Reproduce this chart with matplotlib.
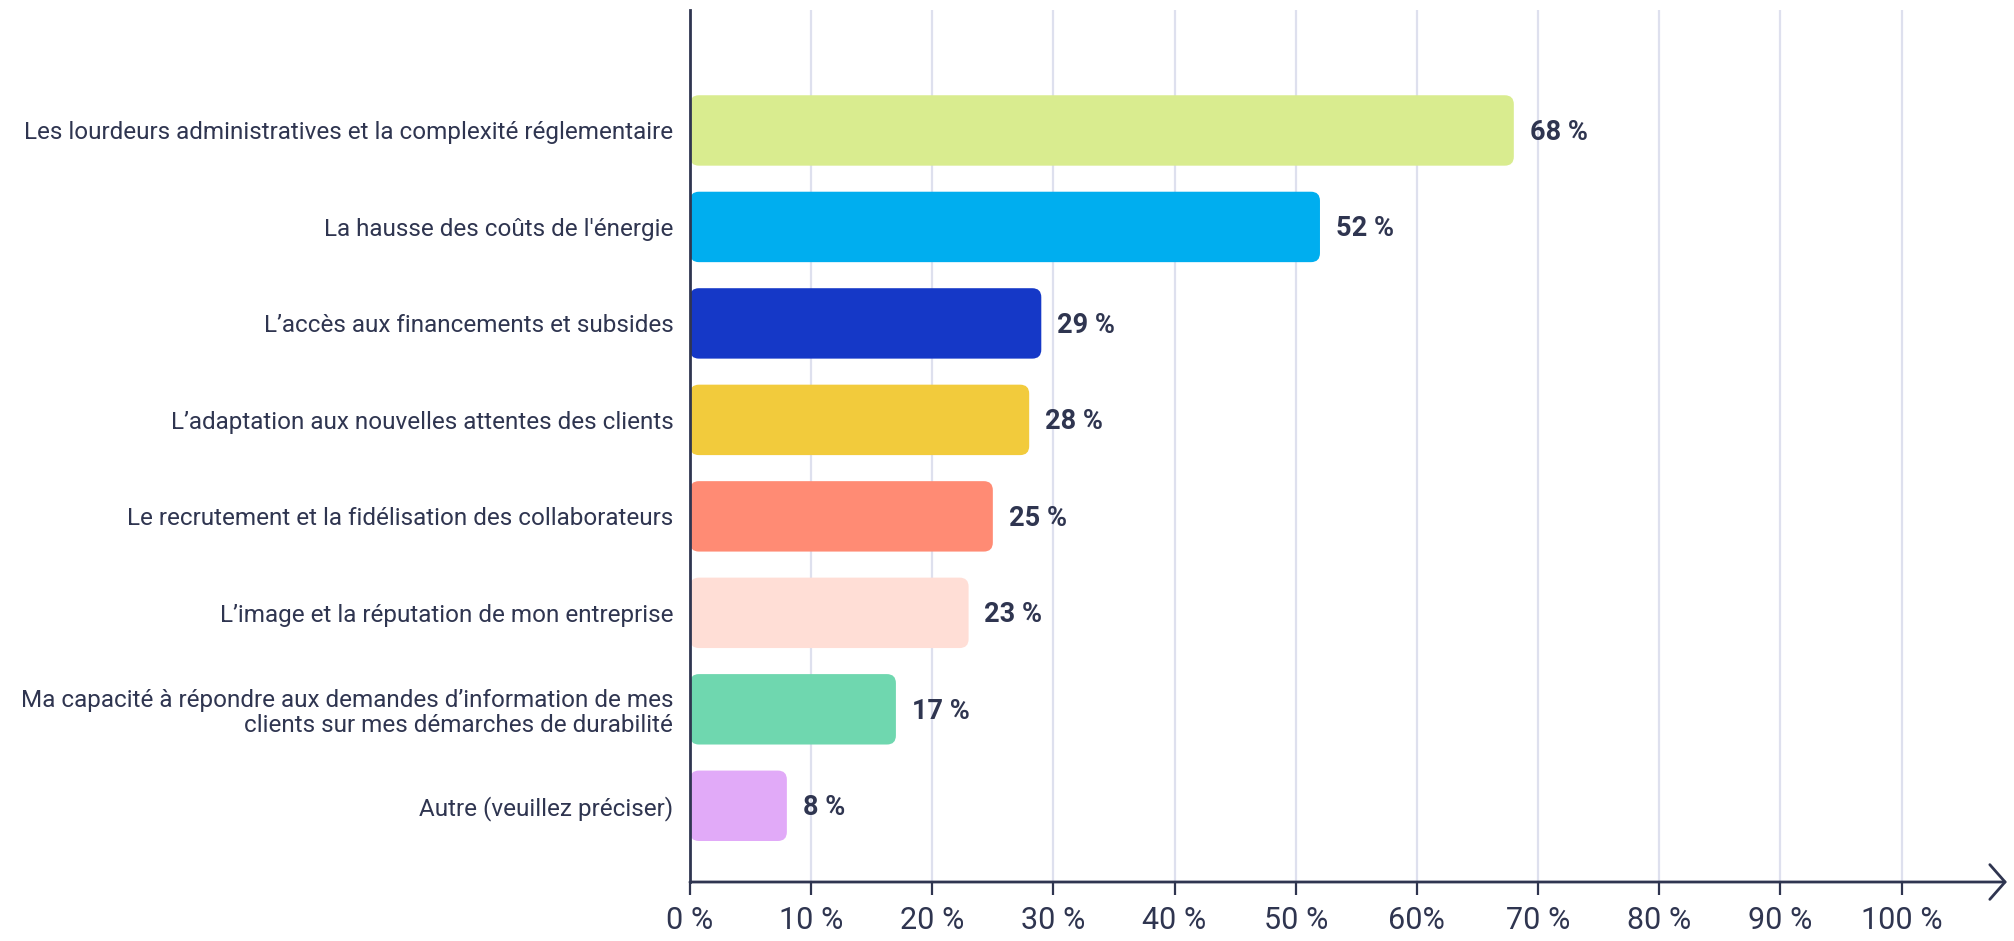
import matplotlib
matplotlib.use("Agg")
import matplotlib.pyplot as plt
from matplotlib.patches import FancyBboxPatch

# Données du graphique
categories = [
    "Les lourdeurs administratives et la complexité réglementaire",
    "La hausse des coûts de l'énergie",
    "L’accès aux financements et subsides",
    "L’adaptation aux nouvelles attentes des clients",
    "Le recrutement et la fidélisation des collaborateurs",
    "L’image et la réputation de mon entreprise",
    "Ma capacité à répondre aux demandes d’information de mes\nclients sur mes démarches de durabilité",
    "Autre (veuillez préciser)",
]
valeurs = [68, 52, 29, 28, 25, 23, 17, 8]
couleurs = ["#D9EC8F", "#00AEEF", "#1538C7", "#F2CB3C",
            "#FF8B74", "#FFDED6", "#6FD7AF", "#E1AAF8"]
ticks_x = [0, 10, 20, 30, 40, 50, 60, 70, 80, 90, 100]
labels_x = ["0 %", "10 %", "20 %", "30 %", "40 %", "50 %", "60%",
            "70 %", "80 %", "90 %", "100 %"]

texte = "#2F3550"
grille = "#DEE0EE"

plt.rcParams['font.family'] = ['Roboto', 'DejaVu Sans']

fig = plt.figure(figsize=(20.15, 9.41), dpi=100)
ax = fig.add_axes([0.3424, 0.0627, 0.996 - 0.3424, 0.989 - 0.0627])

xmax = 108.7
ax.set_xlim(0, xmax)
ax.set_ylim(7.79, -1.245)

# grille verticale
for t in ticks_x[1:]:
    ax.axvline(t, color=grille, lw=1.6, zorder=0)

barres = ax.barh(range(len(valeurs)), valeurs, height=0.73, color="none")

# barres arrondies
px_x = (0.996 - 0.3424) * 2015 / xmax
px_y = (0.989 - 0.0627) * 941 / (7.79 + 1.245)
for b, c in zip(barres, couleurs):
    x, y = b.get_x(), b.get_y()
    w, h = b.get_width(), b.get_height()
    r = 9 / px_x
    p = FancyBboxPatch((x, y), w, h,
                       boxstyle=f"round,pad=0,rounding_size={r}",
                       mutation_aspect=px_x / px_y,
                       facecolor=c, edgecolor="none", zorder=2)
    ax.add_patch(p)
    b.remove()

for i, v in enumerate(valeurs):
    ax.text(v + 1.3, i + 0.02, f"{v} %", va="center", ha="left",
            fontsize=19.5, fontweight="bold", color=texte)

ax.set_yticks(range(len(categories)))
ax.set_yticklabels(categories, fontsize=17.5, color=texte, linespacing=1.1)
ax.tick_params(axis="y", length=0, pad=12)

ax.set_xticks(ticks_x)
ax.set_xticklabels(labels_x, fontsize=22, color=texte)
ax.tick_params(axis="x", length=9, width=1.6, color=texte, pad=8)

for s in ["top", "right"]:
    ax.spines[s].set_visible(False)
ax.spines["left"].set_color(texte)
ax.spines["left"].set_linewidth(2)
ax.spines["bottom"].set_visible(False)

# axe x avec flèche
ax.annotate("", xy=(1.0, 0), xytext=(0, 0), xycoords="axes fraction",
            arrowprops=dict(arrowstyle="->,head_length=1.1,head_width=1.25",
                            color=texte, lw=2, shrinkA=0, shrinkB=0))

fig.savefig("out.png", dpi=100, facecolor="white")
